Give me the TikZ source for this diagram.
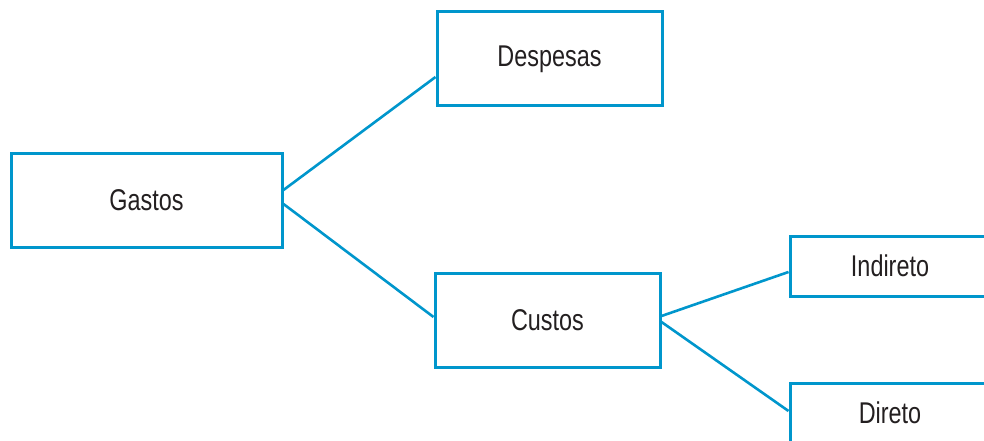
\documentclass[tikz,border=0pt]{standalone}
\usepackage{fontspec}
\setmainfont{Liberation Sans}[FakeStretch=0.78]
\usepackage{tikz}
\usetikzlibrary{positioning}

\definecolor{linkblue}{RGB}{0,150,204}
\definecolor{textgray}{RGB}{35,31,32}

\begin{document}
\begin{tikzpicture}[
			x=1pt, y=1pt,
			node distance=150pt,
			every node/.style={draw=linkblue, line width=3pt, text=textgray,
				font=\fontsize{30}{33}\selectfont, inner sep=0pt},
			bigbox/.style={minimum width=271pt, minimum height=94pt},
			midbox/.style={minimum width=225pt, minimum height=94pt},
			smallbox/.style={minimum width=200pt, minimum height=60pt},
			link/.style={draw=linkblue, line width=2.6pt}
			]
			\useasboundingbox (0,0) rectangle (984,440);
			\clip (0,0) rectangle (984,440);
			
			% left part: Gastos splits in two
			\node[bigbox] (gastos) at (146.5,240) {Gastos};
			\node[midbox] (despesas) [right=152pt of gastos, yshift=141pt] {Despesas};
			\node[midbox] (custos) [right=150pt of gastos, yshift=-120pt] {Custos};
			
			\draw[link] ([yshift=10pt]gastos.east) -- ([yshift=-18pt]despesas.west);
			\draw[link] ([yshift=-4pt]gastos.east) -- ([yshift=3pt]custos.west);
			
			% right part: Custos splits in two
			\node[smallbox] (indireto) [right=127pt of custos, yshift=54pt] {Indireto};
			\node[smallbox] (direto) [right=127pt of custos, yshift=-93pt] {Direto};
			
			\draw[link] ([yshift=4pt]custos.east) -- ([yshift=-6pt]indireto.west);
			\draw[link] ([yshift=-2pt]custos.east) -- ([yshift=2pt]direto.west);
		\end{tikzpicture}
\end{document}
